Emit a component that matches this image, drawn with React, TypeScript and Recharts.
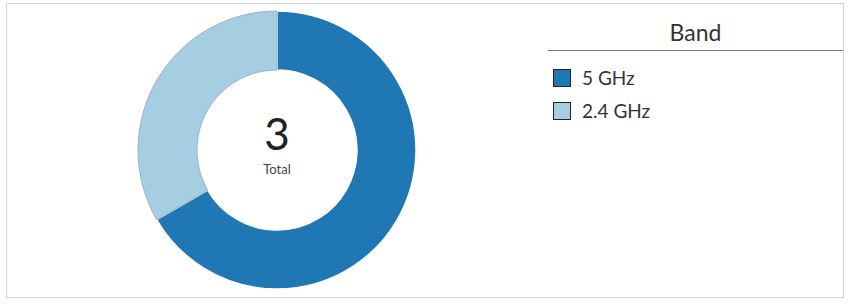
import React from "react";
import { PieChart, Pie, Cell, Legend, Label } from "recharts";

const bands = ["5 GHz", "2.4 GHz"];
const counts = [2, 1];
const colors = ["#1f78b4", "#a6cee3"];
const strokes = ["#ffffff", "#9fb3bf"];
const legendTitle = "Band";
const centerLabel = "Total";

const data = bands.map((name, i) => ({ name, value: counts[i] }));
const total = counts.reduce((a, b) => a + b, 0);

const FONT = "Lato, 'Open Sans', sans-serif";

const CenterLabel = (props: any) => {
  const vb = props.viewBox || {};
  const cx = vb.cx ?? 277;
  const cy = vb.cy ?? 150;
  return (
    <g>
      <text x={cx} y={cy} textAnchor="middle" fontFamily={FONT} fontSize={44} fill="#222">
        {total}
      </text>
      <text x={cx} y={cy + 24} textAnchor="middle" fontFamily={FONT} fontSize={13} fill="#444">
        {centerLabel}
      </text>
    </g>
  );
};

const LegendContent = () => (
  <div style={{ fontFamily: FONT, color: "#333" }}>
    <div style={{ textAlign: "center", fontSize: 23, height: 34, lineHeight: "34px" }}>{legendTitle}</div>
    <div style={{ borderTop: "1.5px solid #777", marginTop: 1 }} />
    <div style={{ paddingTop: 10, paddingLeft: 5 }}>
      {bands.map((b, i) => (
        <div key={b} style={{ display: "flex", alignItems: "center", height: 33 }}>
          <div
            style={{
              width: 18,
              height: 18,
              background: colors[i],
              border: "1.5px solid #222",
              boxSizing: "border-box",
              marginRight: 11,
            }}
          />
          <span style={{ fontSize: 19 }}>{b}</span>
        </div>
      ))}
    </div>
  </div>
);

export default function App() {
  return (
    <div style={{ position: "absolute", left: 0, top: 0, width: 850, height: 308, background: "#fff" }}>
      <div
        style={{
          position: "absolute",
          left: 6,
          top: 3,
          width: 836,
          height: 293,
          border: "1.5px solid #d4d4d4",
        }}
      />
      <div style={{ position: "absolute", left: 0, top: 0 }}>
        <PieChart width={850} height={308} margin={{ top: 0, right: 0, bottom: 0, left: 0 }}>
          <Pie
            data={data}
            dataKey="value"
            nameKey="name"
            cx={277}
            cy={150}
            innerRadius={80}
            outerRadius={139}
            startAngle={90}
            endAngle={-270}
            isAnimationActive={false}
          >
            {data.map((d, i) => (
              <Cell key={d.name} fill={colors[i]} stroke={strokes[i]} strokeWidth={i === 0 ? 1.5 : 1} />
            ))}
            <Label position="center" content={<CenterLabel />} />
          </Pie>
          <Legend
            content={<LegendContent />}
            layout="vertical"
            verticalAlign="top"
            align="right"
            wrapperStyle={{ position: "absolute", top: 15, left: 548, width: 295 }}
          />
        </PieChart>
      </div>
    </div>
  );
}
